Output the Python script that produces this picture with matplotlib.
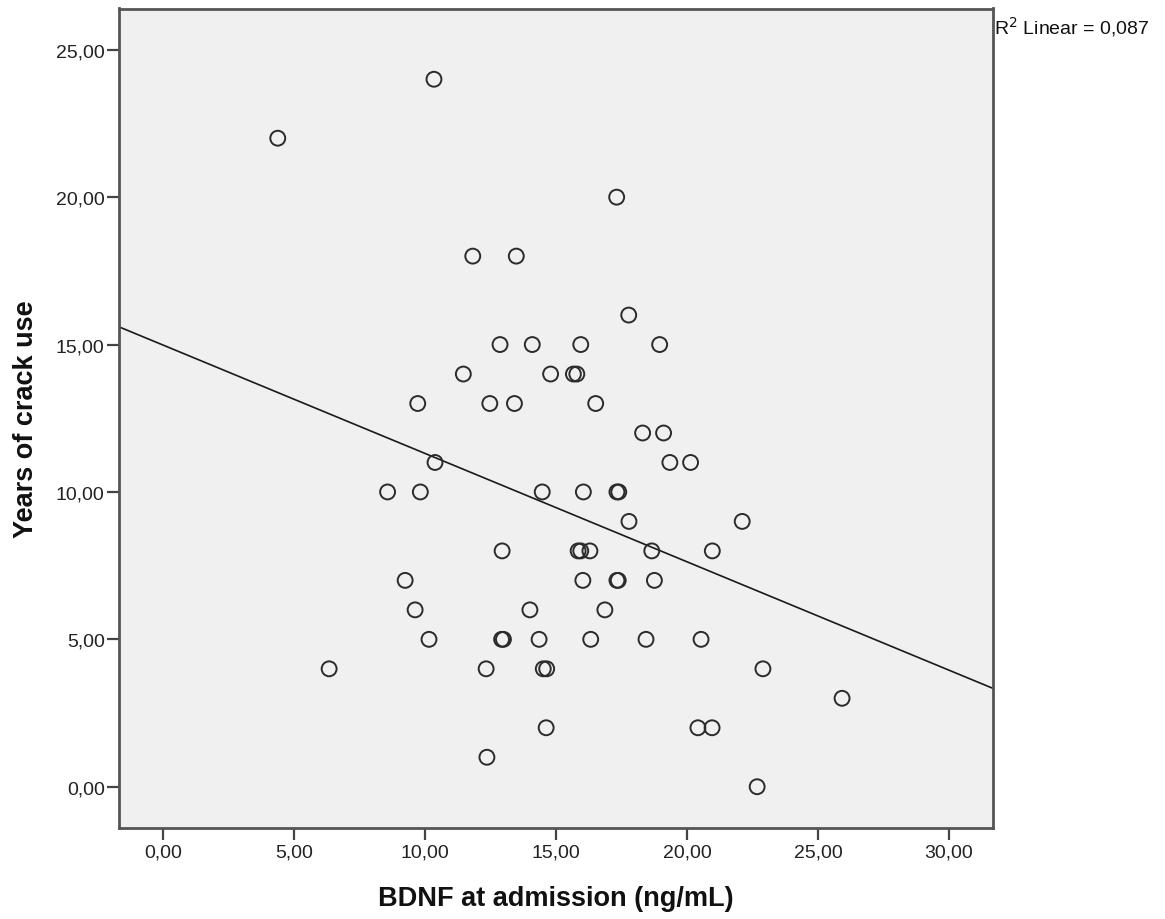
import numpy as np
import matplotlib
matplotlib.use("Agg")
import matplotlib.pyplot as plt
from matplotlib.ticker import FuncFormatter

# Data: BDNF at admission (ng/mL) vs years of crack use
bdnf = [10.35, 4.39, 17.32, 11.83, 13.49, 17.78,
        12.87, 14.10, 15.95, 18.96,
        11.47, 14.80, 15.67, 15.80,
        9.73, 12.48, 13.42, 16.52,
        18.31, 19.11,
        10.39, 19.35, 20.14,
        8.58, 9.83, 14.48, 16.05, 17.33, 17.40,
        17.79, 22.11,
        12.95, 15.85, 15.95, 16.30, 18.66, 20.97,
        9.25, 16.03, 17.33, 17.38, 18.76,
        9.63, 14.01, 16.87,
        10.16, 12.93, 13.00, 14.36, 16.33, 18.44, 20.54,
        6.35, 12.34, 14.52, 14.65, 22.90,
        25.92,
        14.63, 20.42, 20.96,
        12.37,
        22.68]
years = [24, 22, 20, 18, 18, 16,
         15, 15, 15, 15,
         14, 14, 14, 14,
         13, 13, 13, 13,
         12, 12,
         11, 11, 11,
         10, 10, 10, 10, 10, 10,
         9, 9,
         8, 8, 8, 8, 8, 8,
         7, 7, 7, 7, 7,
         6, 6, 6,
         5, 5, 5, 5, 5, 5, 5,
         4, 4, 4, 4, 4,
         3,
         2, 2, 2,
         1,
         0]
x_ticks = [0, 5, 10, 15, 20, 25, 30]
y_ticks = [0, 5, 10, 15, 20, 25]
r2_label = "R$^2$ Linear = 0,087"

W, H = 1165, 920
fig = plt.figure(figsize=(W / 100, H / 100), dpi=100)
fig.patch.set_facecolor("white")
left, right, top, bottom = 119.3, 993.3, 9.5, 829
aw, ah = right - left, bottom - top
ax = fig.add_axes([left / W, 1 - bottom / H, aw / W, ah / H])
ax.set_facecolor("#F0F0F0")

xlim = (-1.656, 31.69)
ylim = (-1.40, 26.40)
ax.set_xlim(*xlim)
ax.set_ylim(*ylim)

ax.scatter(bdnf, years, s=115, facecolors="none", edgecolors="#2b2b2b",
           linewidths=1.4, zorder=3)

slope, intercept = np.polyfit(np.array(bdnf), np.array(years), 1)
xl = np.array(xlim)
ax.plot(xl, intercept + slope * xl, color="#1a1a1a", linewidth=1.2, zorder=2)

fmt = FuncFormatter(lambda v, p: f"{v:.2f}".replace(".", ","))
ax.set_xticks(x_ticks)
ax.set_yticks(y_ticks)
ax.xaxis.set_major_formatter(fmt)
ax.yaxis.set_major_formatter(fmt)

font = ["Liberation Sans", "DejaVu Sans"]
for lab in ax.get_xticklabels() + ax.get_yticklabels():
    lab.set_fontfamily(font)
    lab.set_fontsize(14)
    lab.set_color("#222222")

ax.tick_params(axis="x", direction="out", length=8.5, width=1.6, color="#444444", pad=3)
ax.tick_params(axis="y", direction="out", length=8.5, width=1.6, color="#444444", pad=2)
for sp in ax.spines.values():
    sp.set_color("#555555")
    sp.set_linewidth(2.0)

ax.set_xlabel("BDNF at admission (ng/mL)", fontfamily=font, fontweight="bold",
              fontsize=19.5, color="#111111", va="center", ha="center")
ax.set_ylabel("Years of crack use", fontfamily=font, fontweight="bold",
              fontsize=19.5, color="#111111", va="center", ha="center")
ax.xaxis.set_label_coords(0.5, (bottom - 899) / ah)
ax.yaxis.set_label_coords((26 - left) / aw, 0.5)

fig.text(994 / W, 1 - 27 / H, r2_label, fontfamily=font, fontsize=14,
         ha="left", va="center", color="#111111")

fig.savefig("out.png", dpi=100, facecolor="white")
print(slope, intercept)
